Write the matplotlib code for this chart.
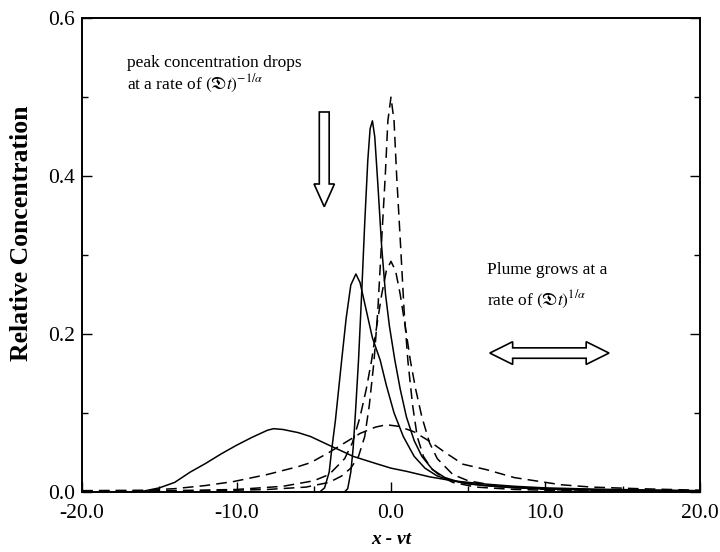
import numpy as np
import matplotlib
matplotlib.use("Agg")
import matplotlib.pyplot as plt
from matplotlib.patches import Polygon, FancyArrow
from matplotlib.ticker import MultipleLocator

plt.rcParams['font.family'] = ['Liberation Serif', 'DejaVu Serif']
plt.rcParams['mathtext.fontset'] = 'stix'

# values
# solid curves (skewed plumes): narrow, medium, broad
s1_x = [-3.0, -2.8, -2.6, -2.45, -2.3, -2.1, -1.9, -1.7, -1.5, -1.35, -1.2, -1.05,
        -0.85, -0.6, -0.35, -0.1, 0.25, 0.6, 1.0, 1.5, 2.0, 2.7, 3.5, 4.5, 6.0, 8.0,
        11.0, 15.0, 20.0]
s1_y = [0.0, 0.004, 0.025, 0.055, 0.10, 0.167, 0.25, 0.34, 0.42, 0.46, 0.47, 0.45,
        0.39, 0.31, 0.25, 0.21, 0.167, 0.13, 0.095, 0.065, 0.045, 0.028, 0.018, 0.012,
        0.008, 0.005, 0.003, 0.002, 0.001]

s2_x = [-4.6, -4.3, -4.0, -3.84, -3.6, -3.19, -2.9, -2.6, -2.27, -2.0, -1.6, -1.2,
        -0.7, -0.3, 0.2, 0.8, 1.5, 2.2, 3.0, 4.0, 5.0, 7.0, 10.0, 15.0, 20.0]
s2_y = [0.0, 0.005, 0.025, 0.053, 0.09, 0.167, 0.22, 0.262, 0.276, 0.265, 0.23, 0.195,
        0.167, 0.135, 0.10, 0.07, 0.045, 0.03, 0.02, 0.014, 0.01, 0.0065, 0.004, 0.002,
        0.0012]

s3_x = [-20.0, -17.0, -16.0, -15.0, -14.0, -13.0, -12.0, -11.0, -10.0, -9.0, -8.0,
        -7.6, -7.0, -6.0, -5.2, -4.0, -3.0, -2.46, -1.0, 0.0, 1.0, 2.5, 4.0, 6.0,
        8.0, 10.0, 13.0, 16.0, 20.0]
s3_y = [0.0, 0.0, 0.001, 0.005, 0.012, 0.025, 0.036, 0.048, 0.059, 0.069, 0.078,
        0.080, 0.079, 0.075, 0.070, 0.059, 0.050, 0.045, 0.036, 0.030, 0.026, 0.019,
        0.014, 0.010, 0.007, 0.005, 0.0035, 0.0025, 0.0015]

# dashed curves (symmetric plumes): narrow, medium, broad
d1_x = [-20.0, -12.0, -8.0, -5.5, -4.0, -3.2, -2.6, -2.1, -1.7, -1.4, -1.1, -0.85,
        -0.6, -0.37, -0.2, 0.0, 0.2, 0.37, 0.6, 0.85, 1.1, 1.4, 1.7, 2.1, 2.6, 3.2,
        4.0, 5.5, 8.0, 12.0, 20.0]
d1_y = [0.0005, 0.0012, 0.003, 0.006, 0.012, 0.02, 0.03, 0.045, 0.07, 0.11, 0.165,
        0.23, 0.32, 0.40, 0.47, 0.50, 0.47, 0.40, 0.32, 0.23, 0.165, 0.11, 0.07, 0.045,
        0.03, 0.02, 0.012, 0.006, 0.003, 0.0012, 0.0005]

d2_x = [-20.0, -15.0, -10.0, -7.0, -5.0, -4.0, -3.0, -2.5, -2.0, -1.6, -1.25, -1.0,
        -0.6, -0.3, 0.0, 0.3, 0.6, 1.0, 1.25, 1.6, 2.0, 2.5, 3.0, 4.0, 5.0, 7.0, 10.0,
        15.0, 20.0]
d2_y = [0.0006, 0.0012, 0.003, 0.007, 0.014, 0.022, 0.042, 0.062, 0.095, 0.13, 0.167,
        0.20, 0.25, 0.28, 0.292, 0.28, 0.25, 0.20, 0.167, 0.13, 0.095, 0.062, 0.042,
        0.022, 0.014, 0.007, 0.003, 0.0012, 0.0006]

d3_x = [-20.0, -16.0, -14.0, -12.0, -10.2, -8.0, -6.0, -5.2, -4.0, -3.0, -2.0, -1.0,
        -0.3, 0.5, 1.5, 2.5, 3.5, 4.66, 6.2, 8.0, 9.0, 11.0, 13.0, 16.0, 20.0]
d3_y = [0.0015, 0.002, 0.004, 0.008, 0.013, 0.022, 0.032, 0.037, 0.05, 0.062, 0.074,
        0.082, 0.085, 0.083, 0.076, 0.064, 0.05, 0.035, 0.028, 0.018, 0.015, 0.009,
        0.006, 0.004, 0.002]

fig = plt.figure(figsize=(7.2, 5.52), dpi=100)
ax = fig.add_axes([0.114, 0.109, 0.858, 0.858])

for xs, ys in [(s1_x, s1_y), (s2_x, s2_y), (s3_x, s3_y)]:
    ax.plot(xs, ys, color='black', lw=1.1)
for xs, ys in [(d1_x, d1_y), (d2_x, d2_y), (d3_x, d3_y)]:
    ax.plot(xs, ys, color='black', lw=1.1, dashes=(7, 4))

ax.set_xlim(-20, 20)
ax.set_ylim(0, 0.6)
ax.xaxis.set_major_locator(MultipleLocator(10))
ax.xaxis.set_minor_locator(MultipleLocator(5))
ax.yaxis.set_major_locator(MultipleLocator(0.2))
ax.yaxis.set_minor_locator(MultipleLocator(0.1))
ax.xaxis.set_major_formatter(plt.FuncFormatter(lambda v, p: f"{v:.1f}"))
ax.yaxis.set_major_formatter(plt.FuncFormatter(lambda v, p: f"{v:.1f}"))
ax.tick_params(which='both', direction='in', right=True, top=False, labelsize=15.5,
               width=1.0)
ax.tick_params(axis='y', pad=5)
ax.tick_params(axis='x', pad=9)
ax.tick_params(which='major', length=7)
ax.tick_params(which='minor', length=4)
for sp in ax.spines.values():
    sp.set_linewidth(1.4)

ax.set_xlabel('x - vt', fontsize=14, fontweight='bold', fontstyle='italic')
ax.xaxis.set_label_coords(0.5, -0.083)
ax.set_ylabel('Relative Concentration', fontsize=18.5, fontweight='bold')
ax.yaxis.set_label_coords(-0.08, 0.545)

ax.text(0.072, 0.906, 'peak concentration drops', transform=ax.transAxes,
        fontsize=12.5, va='center')
ax.text(0.072, 0.862, r'at a rate of $(\mathfrak{D}t)^{-1/\alpha}$', transform=ax.transAxes,
        fontsize=12.5, va='center')
ax.text(0.655, 0.468, 'Plume grows at a', transform=ax.transAxes, fontsize=12.5,
        va='center')
ax.text(0.655, 0.405, r'rate of $(\mathfrak{D}t)^{1/\alpha}$', transform=ax.transAxes,
        fontsize=12.5, va='center')

# hollow down arrow
ax.add_patch(FancyArrow(0.392, 0.802, 0, -0.2, width=0.016, head_width=0.033,
                        head_length=0.048, length_includes_head=True,
                        transform=ax.transAxes, facecolor='white', edgecolor='black',
                        lw=1.2))

# hollow double-headed arrow (axes fraction)
x0, x1, yc = 0.660, 0.853, 0.293
hw, sw, hl = 0.024, 0.011, 0.037
ax.add_patch(Polygon([(x0, yc), (x0 + hl, yc + hw), (x0 + hl, yc + sw), (x1 - hl, yc + sw),
                      (x1 - hl, yc + hw), (x1, yc), (x1 - hl, yc - hw), (x1 - hl, yc - sw),
                      (x0 + hl, yc - sw), (x0 + hl, yc - hw)], closed=True,
                     transform=ax.transAxes, facecolor='white', edgecolor='black', lw=1.2))

fig.savefig('out.png', dpi=100)
